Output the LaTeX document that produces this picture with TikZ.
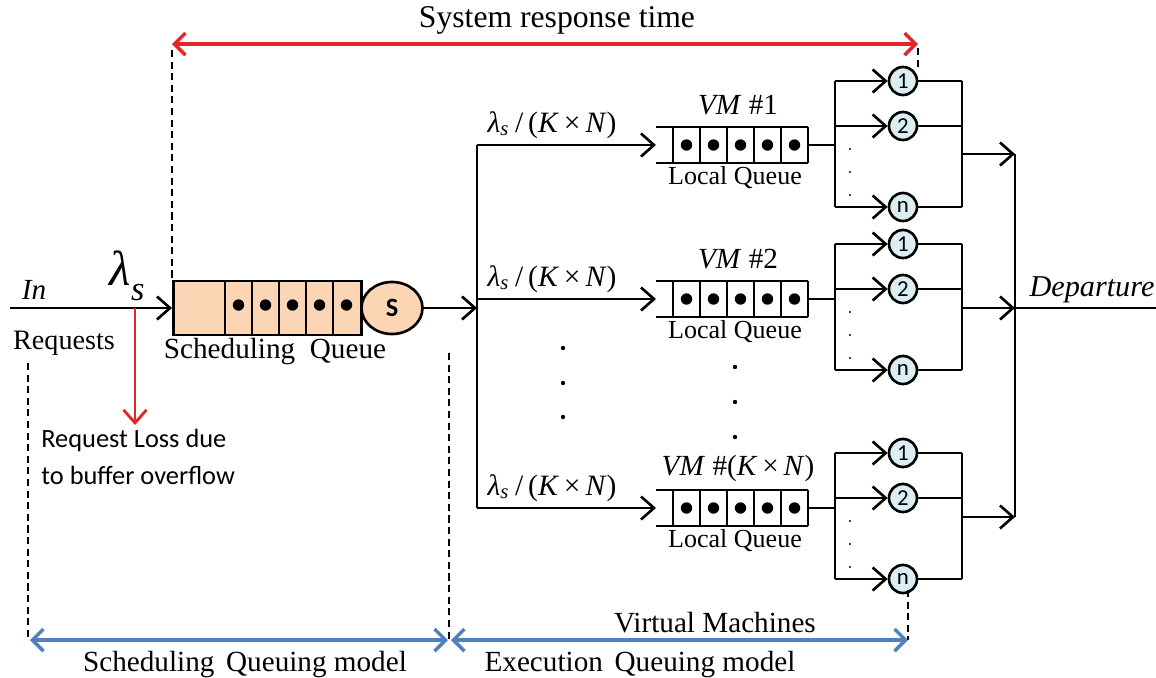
\documentclass[tikz,border=0pt]{standalone}
\usepackage{fontspec}
\setmainfont{Liberation Serif}
\newfontfamily\calib{Carlito}
\usepackage{amsmath}
\usetikzlibrary{arrows.meta, positioning, shapes.geometric}
\definecolor{peach}{HTML}{FCD5B4}
\definecolor{vmblue}{HTML}{DAEEF3}
\definecolor{resred}{HTML}{E3262A}
\definecolor{modblue}{HTML}{4F81BD}
\newcommand{\ratelbl}{\textit{λ}\textsubscript{\textit{s}}\,/\,(\textit{K}\,×\,\textit{N})}

\begin{document}
\begin{tikzpicture}[x=0.01cm, y=-0.01cm, line width=0.75pt,
  >={Straight Barb[length=1.3mm, width=2.3mm]},
  lbl/.style={inner sep=0pt, font=\fontsize{8.3}{10}\selectfont},
  qlbl/.style={inner sep=0pt, font=\fontsize{7.4}{9}\selectfont},
  sans/.style={inner sep=0pt, font=\calib\fontsize{7.5}{9.4}\selectfont},
  srvc/.style={circle, draw, fill=vmblue, minimum size=0.28cm, inner sep=0pt, font=\calib\fontsize{6.5}{7}\selectfont},
  guide/.style={line width=0.55pt, dash pattern=on 2pt off 1.3pt},
  span/.style={<->, line width=1pt, >={Straight Barb[length=1.1mm, width=2.2mm]}}]
\useasboundingbox (0,0) rectangle (1156,678);

% input and scheduling queue
\coordinate (in) at (10,308);
\node[draw, fill=peach, minimum width=1.88cm, minimum height=0.54cm, inner sep=0pt, anchor=west] (sq) at (172,308) {};
\foreach \k in {0,...,4} {
  \draw (225+\k*27,281) -- (225+\k*27,335);
  \fill (238.5+\k*27,305) circle (0.057cm);
}
\node[ellipse, draw, fill=peach, minimum width=0.61cm, minimum height=0.52cm, inner sep=0pt,
  font=\calib\bfseries\fontsize{7.5}{8}\selectfont] (srv) at (392,308) {S};
\draw[->] (in) -- (sq.west);

\node[lbl, font=\itshape\fontsize{8.3}{10}\selectfont] (inlbl) at (34,290) {In};
\node[inner sep=0pt, font=\fontsize{14}{16}\selectfont] (lam) at (128,276) {\textit{λ}\raisebox{-0.35ex}{\textsubscript{\textit{s}}}};
\node[lbl, font=\fontsize{8}{10}\selectfont] (req) at (64,343) {Requests};
\node[lbl] (sqlbl) at (275,352) {Scheduling\hspace{0.5em}Queue};

% request loss
\coordinate (lossTop) at (135,308);
\coordinate (lossEnd) at (135,425);
\draw[->, resred, line width=0.8pt] (lossTop) -- (lossEnd);
\node[sans, align=left, anchor=north west] (loss) at (40,428) {Request Loss due\\[1.2pt]to buffer overflow};

% dispatcher
\coordinate (split) at (477,308);
\coordinate (br1) at (477,145);
\coordinate (br3) at (477,508);
\draw[->] (srv.east) -- (split);
\draw (br1) -- (br3);
\foreach \yy in {348,383,417} \fill (563,\yy) circle (0.022cm);
\foreach \yy in {367,402,437} \fill (735,\yy) circle (0.022cm);

% virtual machines
\foreach \n/\y/\vm/\gy/\oy in {1/145/{\textit{VM} \#1}/81/154,
    2/299/{\textit{VM} \#2}/244/308,
    3/508/{\textit{VM} \#(\textit{K}\,×\,\textit{N})}/453/517} {
  \coordinate (br\n) at (477,\y);
  \coordinate (q\n) at (656,\y);
  \coordinate (qe\n) at (808,\y);
  \coordinate (sl\n) at (835,\y);
  \draw[->] (br\n) -- (q\n);
  \node[lbl, font=\fontsize{8.4}{10}\selectfont] (rate\n) at (552,\y-20) {\ratelbl};
  \node[lbl] (vm\n) at (738,\y-40) {\vm};
  \node[qlbl] (lq\n) at (735,\y+33) {Local Queue};
  \draw (656,\y-18) -- (808,\y-18) (656,\y+18) -- (808,\y+18);
  \foreach \k in {0,...,5} \draw (673+\k*27,\y-18) -- (673+\k*27,\y+18);
  \foreach \k in {0,...,4} \fill (686.5+\k*27,\y) circle (0.057cm);
  \draw (qe\n) -- (sl\n);
  % parallel servers
  \draw (835,\gy) -- (835,\gy+126);
  \draw (962,\gy) -- (962,\gy+126);
  \node[srvc] (sa\n) at (903,\gy) {1};
  \node[srvc] (sb\n) at (903,\gy+45) {2};
  \node[srvc] (sn\n) at (903,\gy+126) {n};
  \draw[->] (835,\gy) -- (sa\n.west);
  \draw[->] (835,\gy+45) -- (sb\n.west);
  \draw[->] (835,\gy+126) -- (sn\n.west);
  \draw (sa\n.east) -- (962,\gy);
  \draw (sb\n.east) -- (962,\gy+45);
  \draw (sn\n.east) -- (962,\gy+126);
  \foreach \d in {68,91,114} \fill (850,\gy+\d) circle (0.012cm);
  \coordinate (out\n) at (962,\oy);
  \coordinate (col\n) at (1015,\oy);
  \draw[->] (out\n) -- (col\n);
}
\draw (col1) -- (col3);
\coordinate (dep) at (1156,308);
\draw (col2) -- (dep);
\node[lbl, font=\itshape\fontsize{8.6}{10}\selectfont] (deplbl) at (1092,290) {Departure};

% system response time
\coordinate (rtL) at (172,44);
\coordinate (rtR) at (918,44);
\draw[span, resred] (rtL) -- (rtR);
\node[lbl, font=\fontsize{9}{11}\selectfont] (rt) at (557,20) {System response time};
\draw[guide] (172,50) -- (sq.north west);
\draw[guide] (918,48) -- (918,70);

% queuing models
\coordinate (smL) at (30,640);
\coordinate (smR) at (448,640);
\coordinate (emL) at (451,640);
\coordinate (emR) at (908,640);
\draw[guide] (28,363) -- (28,640);
\draw[guide] (449,353) -- (449,640);
\draw[guide] (908,590) -- (908,640);
\draw[span, modblue] (smL) -- (smR);
\draw[span, modblue] (emL) -- (emR);
\node[lbl] (vmlbl) at (715,623) {Virtual Machines};
\node[lbl] (smlbl) at (245,665) {Scheduling\hspace{0.4em}Queuing model};
\node[lbl] (emlbl) at (640,665) {Execution\hspace{0.4em}Queuing model};
\end{tikzpicture}
\end{document}
